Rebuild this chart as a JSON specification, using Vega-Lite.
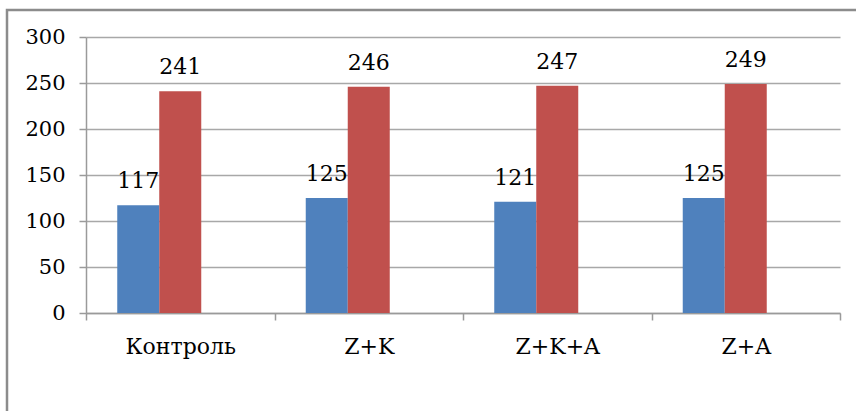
{
  "$schema": "https://vega.github.io/schema/vega-lite/v6.json",
  "width": 900,
  "height": 420,
  "autosize": {"type": "none"},
  "padding": {"left": 7, "top": 10, "right": 0, "bottom": 0},
  "background": "white",
  "data": {
    "values": [
      {"category": "Контроль", "series": "Ряд 1", "value": 117},
      {"category": "Контроль", "series": "Ряд 2", "value": 241},
      {"category": "Z+K", "series": "Ряд 1", "value": 125},
      {"category": "Z+K", "series": "Ряд 2", "value": 246},
      {"category": "Z+K+A", "series": "Ряд 1", "value": 121},
      {"category": "Z+K+A", "series": "Ряд 2", "value": 247},
      {"category": "Z+A", "series": "Ряд 1", "value": 125},
      {"category": "Z+A", "series": "Ряд 2", "value": 249}
    ]
  },
  "encoding": {
    "x": {
      "field": "category",
      "type": "nominal",
      "sort": null,
      "scale": {
        "domain": ["Контроль", "Z+K", "Z+K+A", "Z+A"],
        "range": [79, 833],
        "paddingInner": 0,
        "paddingOuter": 0
      },
      "axis": {
        "title": null,
        "labelAngle": 0,
        "labelFont": "DejaVu Serif",
        "labelFontSize": 22,
        "labelColor": "#000000",
        "labelPadding": 16,
        "tickSize": 7,
        "tickBand": "extent",
        "tickColor": "#9a9a9a",
        "domainColor": "#9a9a9a",
        "offset": -117,
        "grid": false
      }
    },
    "xOffset": {
      "field": "series",
      "type": "nominal",
      "scale": {
        "domain": ["Ряд 1", "Ряд 2", "Ряд 3"],
        "paddingInner": 0,
        "paddingOuter": 0.744
      }
    },
    "y": {
      "field": "value",
      "type": "quantitative",
      "scale": {"domain": [0, 300], "range": [303, 27], "nice": false, "zero": true},
      "axis": {
        "title": null,
        "values": [0, 50, 100, 150, 200, 250, 300],
        "labelFont": "DejaVu Serif",
        "labelFontSize": 21,
        "labelColor": "#000000",
        "labelPadding": 14,
        "tickSize": 7,
        "tickColor": "#9a9a9a",
        "domainColor": "#9a9a9a",
        "gridColor": "#a8a8a8",
        "gridWidth": 1.5,
        "offset": -79,
        "grid": true
      }
    }
  },
  "layer": [
    {
      "mark": {"type": "bar"},
      "encoding": {
        "color": {
          "field": "series",
          "type": "nominal",
          "scale": {"domain": ["Ряд 1", "Ряд 2", "Ряд 3"], "range": ["#4F81BD", "#C0504D", "#9BBB59"]},
          "legend": null
        }
      }
    },
    {
      "mark": {
        "type": "text",
        "baseline": "bottom",
        "dy": -12,
        "font": "DejaVu Serif",
        "fontSize": 22,
        "color": "#000000"
      },
      "encoding": {
        "text": {"field": "value", "type": "quantitative"}
      }
    }
  ],
  "config": {
    "view": {"stroke": "#8c8c8c", "strokeWidth": 2.5},
    "axis": {"domainWidth": 1.5, "tickWidth": 1.5}
  }
}
